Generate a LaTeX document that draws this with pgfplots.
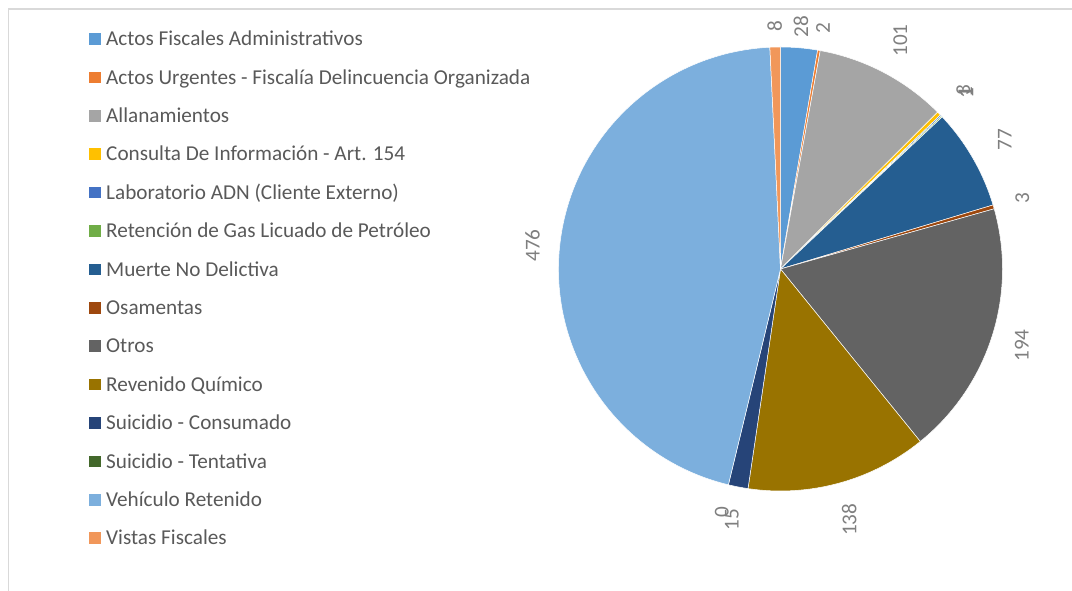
\documentclass[border=0pt]{standalone}
\usepackage{pgfplots}
\pgfplotsset{compat=1.18}
\usepackage{fontspec}
\setmainfont{Carlito}
\definecolor{c1}{HTML}{5B9BD5}
\definecolor{c2}{HTML}{ED7D31}
\definecolor{c3}{HTML}{A5A5A5}
\definecolor{c4}{HTML}{FFC000}
\definecolor{c5}{HTML}{4472C4}
\definecolor{c6}{HTML}{70AD47}
\definecolor{c7}{HTML}{255E91}
\definecolor{c8}{HTML}{9E480E}
\definecolor{c9}{HTML}{636363}
\definecolor{c10}{HTML}{997300}
\definecolor{c11}{HTML}{264478}
\definecolor{c12}{HTML}{43682B}
\definecolor{c13}{HTML}{7CAFDD}
\definecolor{c14}{HTML}{F1975A}
\definecolor{legtext}{HTML}{595959}
\definecolor{lbltext}{HTML}{7F7F7F}
\definecolor{framecol}{HTML}{D9D9D9}
\begin{document}
\begin{tikzpicture}
\begin{axis}[at={(0,0)},anchor=south west,width=1072bp,height=591bp,scale only axis,
  xmin=0,xmax=1072,ymin=0,ymax=591,hide axis,clip=false]
\pgfplotsextra{
  \def\cx{780.5}\def\cy{322}\def\R{222}\def\tot{1047}
  \draw[framecol,line width=1.2bp] (axis cs:8.5,0) -- (axis cs:8.5,582) -- (axis cs:1072,582);
  \gdef\cum{0}
  \foreach \v/\col/\dd in {28/c1/243,2/c2/245,101/c3/258,3/c4/256,1/c5/256,1/c6/256,77/c7/259,3/c8/252,194/c9/253,138/c10/260,15/c11/255,0/c12/250,476/c13/249,8/c14/243}{
    \pgfmathsetmacro{\sa}{90-\cum/\tot*360}
    \pgfmathsetmacro{\sb}{90-(\cum+\v)/\tot*360}
    \pgfmathsetmacro{\sm}{(\sa+\sb)/2}
    \pgfmathsetmacro{\lx}{\cx+\dd*cos(\sm)}
    \pgfmathsetmacro{\ly}{\cy+\dd*sin(\sm)}
    \ifdim\v pt>0pt
      \fill[\col,draw=white,line width=0.5bp] (axis cs:\cx,\cy) -- ++(\sa:\R bp) arc[start angle=\sa,end angle=\sb,radius=\R bp] -- cycle;
    \fi
    \node[rotate=90,text=lbltext,inner sep=0pt,font=\fontsize{21.2bp}{24bp}\selectfont] at (axis cs:\lx,\ly) {\v};
    \pgfmathsetmacro{\nc}{\cum+\v}
    \xdef\cum{\nc}
  }
  \foreach \n/\col [count=\i from 0] in {Actos Fiscales Administrativos/c1,Actos Urgentes - Fiscalía Delincuencia Organizada/c2,Allanamientos/c3,Consulta De Información - Art. 154/c4,Laboratorio ADN (Cliente Externo)/c5,Retención de Gas Licuado de Petróleo/c6,Muerte No Delictiva/c7,Osamentas/c8,Otros/c9,Revenido Químico/c10,Suicidio - Consumado/c11,Suicidio - Tentativa/c12,Vehículo Retenido/c13,Vistas Fiscales/c14}{
    \pgfmathsetmacro{\yy}{591-(39+\i*38.4)}
    \pgfmathsetmacro{\ya}{\yy-5.75}
    \pgfmathsetmacro{\yb}{\yy+5.75}
    \pgfmathsetmacro{\yt}{\yy-6.8}
    \fill[\col] (axis cs:89,\ya) rectangle (axis cs:100.5,\yb);
    \node[anchor=base west,inner sep=0pt,text=legtext,font=\fontsize{21.2bp}{24bp}\selectfont] at (axis cs:106,\yt) {\n};
  }
}
\end{axis}
\pgfresetboundingbox
\useasboundingbox (0,0) rectangle (1072bp,591bp);
\end{tikzpicture}
\end{document}
